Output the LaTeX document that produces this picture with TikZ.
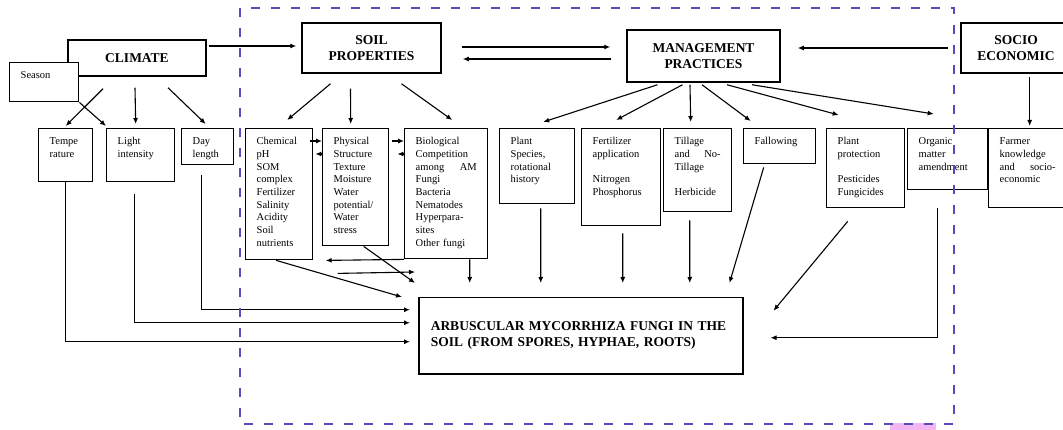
\documentclass[tikz,border=0pt]{standalone}
\usepackage{fontspec}
\setmainfont{Liberation Serif}
\usetikzlibrary{arrows.meta,positioning,calc}
\definecolor{frameblue}{RGB}{88,76,188}
\definecolor{markpink}{RGB}{244,182,240}

\begin{document}
\begin{tikzpicture}[
        x=1pt, y=-1pt,
        headbox/.style={draw, line width=1.5pt, align=center, font=\fontsize{13.5}{16}\selectfont\bfseries},
        factorbox/.style={draw, line width=1.4pt, anchor=north west, align=left, inner xsep=11pt, inner ysep=4pt, text height=12pt, font=\fontsize{10.5}{12.7}\selectfont},
        arrow/.style={-{Latex[length=6pt, width=5pt]}, line width=1.1pt}
    ]
    \useasboundingbox (0,0) rectangle (1063,430);

    % main groups
    \node[headbox, minimum width=138pt, minimum height=36pt] (clim) at (137,58) {CLIMATE};
    \node[factorbox, fill=white, text width=47pt, text depth=19pt] (season) at (9,62) {Season};
    \node[headbox, minimum width=139pt, minimum height=50pt] (soil) at (371.5,48) {SOIL\\PROPERTIES};
    \node[headbox, minimum width=153pt, minimum height=52pt] (mgmt) at (703.5,56) {MANAGEMENT\\PRACTICES};
    \node[headbox, minimum width=110pt, minimum height=50pt] (socio) at (1016,48) {SOCIO\\ECONOMIC};
    \node[headbox, anchor=north west, align=left, text width=300pt, inner xsep=12pt, minimum height=76pt] (amf) at (418,297)
        {ARBUSCULAR MYCORRHIZA FUNGI IN THE\\SOIL (FROM SPORES, HYPHAE, ROOTS)};

    % factors
    \node[factorbox, text width=32pt, text depth=33pt] (temp) at (38,128) {Tempe\\rature};
    \node[factorbox, text width=46pt, text depth=33pt] (light) at (106,128) {Light\\intensity};
    \node[factorbox, text width=30pt, text depth=16pt] (daylen) at (181,128) {Day\\length};
    \node[factorbox, text width=45pt, text depth=111pt] (chem) at (245,128)
        {Chemical\\pH\\SOM\\complex\\Fertilizer\\Salinity\\Acidity\\Soil\\nutrients};
    \node[factorbox, text width=44pt, text depth=97pt] (phys) at (322,128)
        {Physical\\Structure\\Texture\\Moisture\\Water\\potential/\\Water\\stress};
    \node[factorbox, text width=61pt, text depth=110pt] (bio) at (404,128)
        {Biological\\Competition\\among\hfill AM\\Fungi\\Bacteria\\Nematodes\\Hyperpara-\\sites\\Other fungi};
    \node[factorbox, text width=53pt, text depth=55pt] (plant) at (499,128) {Plant\\Species,\\rotational\\history};
    \node[factorbox, text width=57pt, text depth=77pt] (fert) at (581,128) {Fertilizer\\application\\[12.7pt]Nitrogen\\Phosphorus};
    \node[factorbox, text width=46pt, text depth=63pt] (till) at (663,128) {Tillage\\and\hfill No-\\Tillage\\[12.7pt]Herbicide};
    \node[factorbox, text width=50pt, text depth=15pt] (fallow) at (743,128) {Fallowing};
    \node[factorbox, text width=56pt, text depth=59pt] (protect) at (826,128) {Plant\\protection\\[12.7pt]Pesticides\\Fungicides};
    \node[factorbox, text width=58pt, text depth=41pt] (organic) at (907,128) {Organic\\matter\\amendment};
    \node[factorbox, text width=56pt, text depth=59pt] (farmer) at (988,128) {Farmer\\knowledge\\and\hfill socio-\\economic};

    % top row
    \draw[arrow] ($(clim.east)+(2,-12)$) -- ($(soil.west)+(-5,-2)$);
    \draw[arrow] ($(soil.east)+(20,-1)$) -- ($(mgmt.west)+(-16,-9)$);
    \draw[arrow] ($(mgmt.west)+(-15,3)$) -- ($(soil.east)+(21,11)$);
    \draw[arrow] ($(socio.west)+(-12,0)$) -- ($(mgmt.east)+(17,-8)$);
    \draw[arrow] ($(farmer.north)+(2,-51)$) -- ($(farmer.north)+(2,-2)$);

    % climate
    \draw[arrow] ($(clim.south)+(-34,12)$) -- ($(temp.north)+(0,-2)$);
    \draw[arrow] ($(clim.south)+(-2,11)$) -- ($(light.north)+(-5,-4)$);
    \draw[arrow] ($(clim.south)+(31,11)$) -- ($(daylen.north)+(-2,-4)$);
    \draw[arrow] (season.south east) -- ($(light.north west)+(0,-2)$);

    % soil properties
    \draw[arrow] ($(soil.south)+(-41,10)$) -- ($(chem.north)+(8,-8)$);
    \draw[arrow] ($(soil.south)+(-21,15)$) -- ($(phys.north)+(-5,-4)$);
    \draw[arrow] ($(soil.south)+(30,10)$) -- ($(bio.north)+(6,-8)$);
    \draw[arrow] ($(chem.north east)+(-3,13)$) -- ($(phys.north west)+(0,13)$);
    \draw[arrow] ($(phys.north west)+(0,26)$) -- ($(chem.north east)+(2,26)$);
    \draw[arrow] ($(phys.north east)+(3,13)$) -- ($(bio.north west)+(0,13)$);
    \draw[arrow] ($(bio.north west)+(0,26)$) -- ($(phys.north east)+(8,26)$);

    % management practices
    \draw[arrow] ($(mgmt.south)+(-46,2)$) -- ($(plant.north)+(6,-6)$);
    \draw[arrow] ($(mgmt.south)+(-21,2)$) -- ($(fert.north)+(-5,-8)$);
    \draw[arrow] ($(mgmt.south)+(-13.5,2)$) -- ($(till.north)+(-7,-6)$);
    \draw[arrow] ($(mgmt.south)+(-1.5,2)$) -- ($(fallow.north)+(-29,-7)$);
    \draw[arrow] ($(mgmt.south)+(23.5,2)$) -- ($(protect.north)+(-27,-13)$);
    \draw[arrow] ($(mgmt.south)+(48.5,2)$) -- ($(organic.north)+(-14,-14)$);

    % into the AM fungi
    \draw[arrow] (temp.south) |- ($(amf.west)+(-8,6)$);
    \draw[arrow] ($(light.south)+(-6,12)$) |- ($(amf.west)+(-8,-13)$);
    \draw[arrow] ($(daylen.south)+(-6,10)$) |- ($(amf.west)+(-8,-26)$);
    \draw[arrow] ($(chem.south)+(-3,0)$) -- ($(amf.north west)+(-16,0)$);
    \draw[arrow] ($(phys.south)+(8,0)$) -- ($(amf.north west)+(-3,-14)$);
    \draw[arrow] (bio.south west) -- ($(phys.south)+(-30,14)$);
    \draw[arrow] ($(phys.south)+(-18,27)$) -- ($(amf.north west)+(-3,-25)$);
    \draw[arrow] ($(bio.south)+(23.5,0)$) -- ($(amf.north)+(-111,-14)$);
    \draw[arrow] ($(plant.south)+(3.5,4)$) -- ($(amf.north)+(-40,-14)$);
    \draw[arrow] ($(fert.south)+(1.5,7)$) -- ($(amf.north)+(42,-14)$);
    \draw[arrow] ($(till.south)+(-8,8)$) -- ($(amf.north)+(109,-14)$);
    \draw[arrow] ($(fallow.south)+(-16,3)$) -- ($(amf.north east)+(-14,-14)$);
    \draw[arrow] ($(protect.south)+(-18,13)$) -- ($(amf.east)+(30,-25)$);
    \draw[arrow] ($(organic.south)+(-10,18)$) |- ($(amf.east)+(27,2)$);

    % study frame
    \fill[markpink] (890,423) rectangle (936,430);
    \draw[frameblue, line width=1.8pt, dash pattern=on 9pt off 11pt] (240,8) rectangle (954,424);
\end{tikzpicture}
\end{document}
